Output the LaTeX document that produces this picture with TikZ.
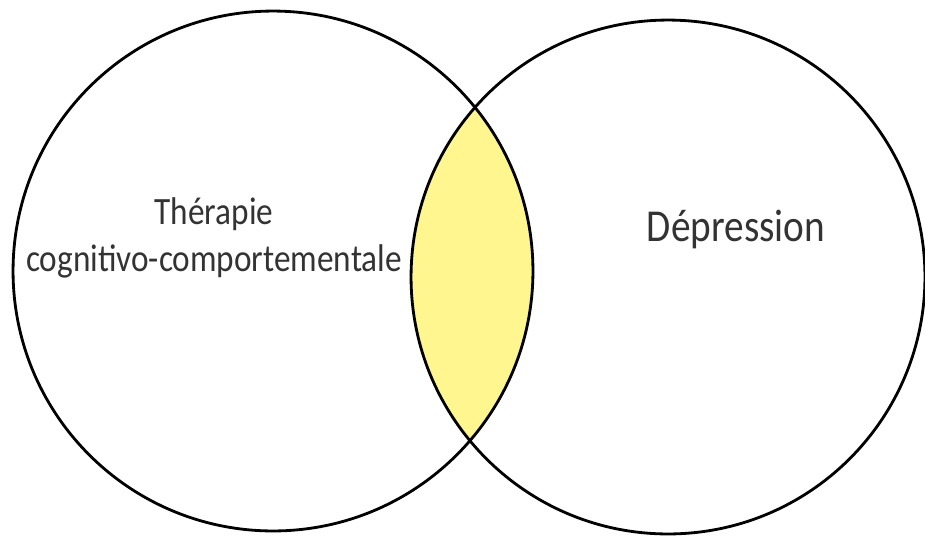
\documentclass[tikz,border=0pt]{standalone}
\usepackage{fontspec}
\setmainfont{Carlito}
\usetikzlibrary{positioning}
\definecolor{lensyellow}{RGB}{255,246,143}

\begin{document}
\begin{tikzpicture}[x=0.02cm, y=-0.02cm,
	set/.style={draw=black, line width=1.6pt},
	lbl/.style={text=black!80, inner sep=0pt, align=center, xscale=0.86, transform shape}]
	\useasboundingbox (0,0) rectangle (925,539);
	\coordinate (therapy) at (273,271);
	\coordinate (depression) at (668,277);
	% shared part of the two sets
	\begin{scope}
		\clip (therapy) circle[radius=5.2cm];
		\fill[lensyellow] (depression) circle[radius=5.14cm];
	\end{scope}
	\draw[set] (therapy) circle[radius=5.2cm];
	\draw[set] (depression) circle[radius=5.14cm];
	\node[lbl, font=\fontsize{22pt}{26.6pt}\selectfont] (tcc) at (214,238) {Thérapie\\cognitivo-comportementale};
	\node[lbl, font=\fontsize{26pt}{30pt}\selectfont] (dep) at (736,229) {Dépression};
\end{tikzpicture}
\end{document}
